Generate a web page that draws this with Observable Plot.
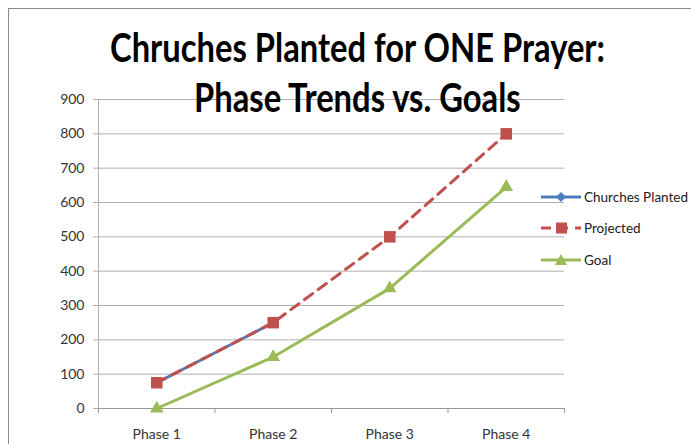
<!DOCTYPE html>
<html>
<head>
<meta charset="utf-8">
<script src="https://cdn.jsdelivr.net/npm/d3@7"></script>
<script src="https://cdn.jsdelivr.net/npm/@observablehq/plot@0.6"></script>
<style>
  body { margin: 0; background: #fff; }
  #wrap { position: relative; width: 691px; height: 444px; overflow: hidden; font-family: Lato, "Open Sans", sans-serif; }
  #border { position: absolute; left: 8px; top: 8px; width: 682px; height: 500px; border-left: 1px solid #8c8c8c; border-top: 1px solid #8c8c8c; }
  .tline { position: absolute; left: 0; width: 0; white-space: nowrap; font-family: Lato, "Open Sans", sans-serif; font-weight: bold; font-size: 41px; line-height: 41px; color: #000; transform-origin: 0 0; }
  #legend { position: absolute; left: 541px; top: 181px; font-size: 13.5px; color: #202020; white-space: nowrap; }
  .item { display: flex; align-items: center; height: 31.5px; }
  .item svg { margin-right: 3px; }
  #chart { position: absolute; left: 0; top: 0; }
</style>
</head>
<body>
<div id="wrap">
  <div id="border"></div>
  <div id="chart"></div>
  <div id="legend"></div>
</div>
<script>
const titleLines = ["Chruches Planted for ONE Prayer:", "Phase Trends vs. Goals"];
const phases = ["Phase 1", "Phase 2", "Phase 3", "Phase 4"];
const churchesPlanted = [75, 250];
const projected = [75, 250, 500, 800];
const goal = [0, 150, 350, 645];
const yTicks = [0, 100, 200, 300, 400, 500, 600, 700, 800, 900];

const seriesNames = ["Churches Planted", "Projected", "Goal"];
const colors = {"Churches Planted": "#4a7ebb", "Projected": "#c0504d", "Goal": "#9bbb59"};

const toRows = (name, vals) => vals.map((v, i) => ({series: name, phase: phases[i], xi: i + 0.5, value: v}));
const cpRows = toRows("Churches Planted", churchesPlanted);
const prRows = toRows("Projected", projected);
const goRows = toRows("Goal", goal);
const labelTicks = phases.map((p, i) => i + 0.5);
const boundaryTicks = d3.range(0, phases.length + 1);

const font = 'Lato, "Open Sans", sans-serif';

const chart = Plot.plot({
  width: 691,
  height: 444,
  marginLeft: 98,
  marginRight: 127,
  marginTop: 99,
  marginBottom: 36,
  style: {fontFamily: font, fontSize: "14px", color: "#333", background: "transparent", overflow: "visible"},
  x: {type: "linear", domain: [0, phases.length]},
  y: {domain: [0, 900]},
  marks: [
    Plot.gridY(yTicks, {stroke: "#b0b0b0", strokeOpacity: 1, strokeWidth: 1}),
    Plot.axisY(yTicks, {tickSize: 5, tickPadding: 9, stroke: "#b0b0b0", fill: "#333", label: null, tickFormat: d => String(d)}),
    Plot.ruleX([0], {stroke: "#b0b0b0"}),
    Plot.ruleY([0], {stroke: "#999"}),
    Plot.axisX(boundaryTicks, {tickSize: 5, stroke: "#999", label: null, tickFormat: () => ""}),
    Plot.axisX(labelTicks, {tickSize: 0, tickPadding: 21, fill: "#333", label: null, tickFormat: d => phases[Math.floor(d)]}),
    Plot.line(cpRows, {x: "xi", y: "value", stroke: colors["Churches Planted"], strokeWidth: 3}),
    Plot.dot(cpRows, {x: "xi", y: "value", symbol: "diamond2", r: 5, fill: colors["Churches Planted"]}),
    Plot.line(prRows, {x: "xi", y: "value", stroke: colors["Projected"], strokeWidth: 3, strokeDasharray: "10,7"}),
    Plot.dot(prRows, {x: "xi", y: "value", symbol: "square", r: 6.5, fill: colors["Projected"]}),
    Plot.line(goRows, {x: "xi", y: "value", stroke: colors["Goal"], strokeWidth: 3}),
    Plot.dot(goRows, {x: "xi", y: "value", symbol: "triangle2", r: 6.5, fill: colors["Goal"]})
  ]
});
document.getElementById("chart").appendChild(chart);

// title: two lines centred at x=357, condensed to match the reference width
const wrap = document.getElementById("wrap");
const tops = [26, 76];
const lineEls = titleLines.map((t, i) => {
  const el = document.createElement("div");
  el.className = "tline";
  el.style.top = tops[i] + "px";
  const span = document.createElement("span");
  span.textContent = t;
  el.appendChild(span);
  wrap.appendChild(el);
  return {el, span};
});
const w0 = lineEls[0].span.getBoundingClientRect().width;
const sx = 495 / w0;
for (const {el, span} of lineEls) {
  const w = span.getBoundingClientRect().width * sx;
  el.style.left = (357 - w / 2) + "px";
  el.style.transform = `scale(${sx}, 1)`;
}

// legend
const legend = document.getElementById("legend");
const symbolSvg = {
  "Churches Planted": c => `<path d="M20,-5 L25,0 L20,5 L15,0 Z" fill="${c}"/>`,
  "Projected": c => `<rect x="15" y="-5.5" width="11" height="11" fill="${c}"/>`,
  "Goal": c => `<path d="M20,-6 L26,5 L14,5 Z" fill="${c}"/>`
};
for (const name of seriesNames) {
  const c = colors[name];
  const dash = name === "Projected" ? ' stroke-dasharray="10,7"' : "";
  const div = document.createElement("div");
  div.className = "item";
  div.innerHTML = `<svg width="40" height="14" viewBox="0 -7 40 14"><line x1="0" x2="40" y1="0" y2="0" stroke="${c}" stroke-width="3"${dash}/>${symbolSvg[name](c)}</svg><span>${name}</span>`;
  legend.appendChild(div);
}
</script>
</body>
</html>
